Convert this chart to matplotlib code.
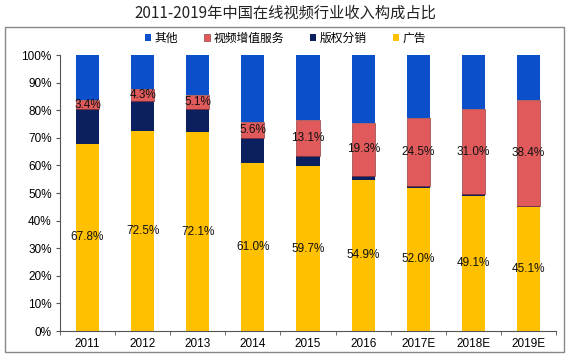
import numpy as np
import matplotlib
matplotlib.use('Agg')
from matplotlib import pyplot as plt
from matplotlib.patches import Rectangle

plt.rcParams['font.family'] = ['Liberation Sans', 'Noto Sans CJK SC', 'DejaVu Sans']

years = ['2011', '2012', '2013', '2014', '2015', '2016', '2017E', '2018E', '2019E']
ads = [67.8, 72.5, 72.1, 61.0, 59.7, 54.9, 52.0, 49.1, 45.1]
copyright = [12.6, 10.9, 8.3, 9.1, 3.6, 1.3, 0.7, 0.4, 0.3]
vas = [3.4, 4.3, 5.1, 5.6, 13.1, 19.3, 24.5, 31.0, 38.4]
other = [100 - a - c - v for a, c, v in zip(ads, copyright, vas)]

c_other = '#0B4FCB'
c_vas = '#E05A5C'
c_copy = '#0C1F5E'
c_ads = '#FFC000'

fig = plt.figure(figsize=(5.71, 3.58), dpi=100)
ax = fig.add_axes([0.105, 0.0754, 0.869, 0.7706])

x = np.arange(len(years))
w = 0.42
ads = np.array(ads)
copyright = np.array(copyright)
vas = np.array(vas)
other = np.array(other)

ax.bar(x, ads, w, color=c_ads, label='广告', zorder=2)
ax.bar(x, copyright, w, bottom=ads, color=c_copy, label='版权分销', zorder=2)
ax.bar(x, vas, w, bottom=ads + copyright, color=c_vas, edgecolor='#7a2a2a',
       linewidth=0.4, label='视频增值服务', zorder=2)
ax.bar(x, other, w, bottom=ads + copyright + vas, color=c_other, label='其他', zorder=2)

for i in range(len(years)):
    ax.text(x[i], ads[i] / 2, '%.1f%%' % ads[i], ha='center', va='center',
            fontsize=8.5, color='#111111', zorder=3)
    ax.text(x[i], ads[i] + copyright[i] + vas[i] / 2, '%.1f%%' % vas[i],
            ha='center', va='center', fontsize=8.5, color='#111111', zorder=3)

ax.set_xlim(-0.5, len(years) - 0.5)
ax.set_ylim(0, 100)
ax.set_yticks(np.arange(0, 101, 10))
ax.set_yticklabels(['%d%%' % v for v in range(0, 101, 10)], fontsize=8.5)
ax.set_xticks(x)
ax.set_xticklabels(years, fontsize=8.5)
ax.set_xticks(np.arange(-0.5, len(years)), minor=True)
ax.tick_params(axis='x', which='major', length=0, pad=5)
ax.tick_params(axis='x', which='minor', length=3, direction='out', color='#555555')
ax.tick_params(axis='y', length=3, direction='out', color='#555555', pad=3)
for s in ['top', 'right']:
    ax.spines[s].set_visible(False)
ax.spines['left'].set_color('#555555')
ax.spines['bottom'].set_color('#555555')

handles, labels = ax.get_legend_handles_labels()
order = [3, 2, 1, 0]
leg = fig.legend([handles[i] for i in order], [labels[i] for i in order],
                 loc='center', bbox_to_anchor=(0.5, 0.893), ncol=4, frameon=False,
                 handlelength=0.5, handleheight=0.5,
                 handletextpad=0.3, columnspacing=2.2,
                 prop={'family': ['Noto Sans CJK SC'], 'size': 8.5})

fig.text(0.5, 0.962, '2011-2019年中国在线视频行业收入构成占比', ha='center', va='center',
         fontsize=11, family=['Noto Sans CJK SC'], color='#222222')

fig.patches.append(Rectangle((0.009, 0.017), 0.978, 0.908, transform=fig.transFigure,
                             fill=False, edgecolor='#888888', linewidth=1.0))

fig.savefig('out.png', dpi=100)
